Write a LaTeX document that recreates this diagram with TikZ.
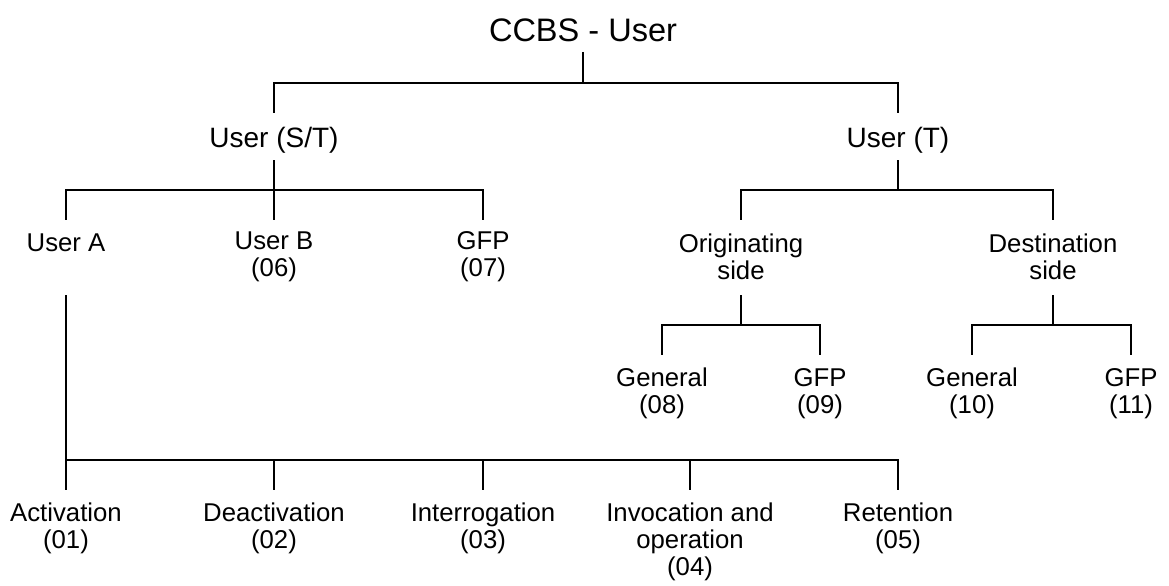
\documentclass[tikz,border=0pt]{standalone}
\usepackage{fontspec}
\setmainfont{Liberation Sans}
\usetikzlibrary{calc}

\tikzset{
	lbl/.style={align=center, inner sep=0pt, font=\fontsize{19.3}{20.25}\selectfont},
	mid/.style={lbl, font=\fontsize{21}{24}\selectfont},
	ttl/.style={lbl, font=\fontsize{24.4}{28}\selectfont},
	conn/.style={line width=1.2pt},
}

\begin{document}
\begin{tikzpicture}[x=0.75pt, y=-0.75pt]
	\useasboundingbox (0,0) rectangle (1169,585);
	
	\node[ttl] (ccbs) at (583,30) {CCBS - User};
	\node[mid] (ust) at (274,140) {User (S/T)};
	\node[mid] (ut) at (898,140) {User (T)};
	
	\node[lbl] (ua) at (66,243) {User A};
	\node[lbl] (ub) at (274,256.5) {User B\\(06)};
	\node[lbl] (gfp_7) at (483,256.5) {GFP\\(07)};
	\node[lbl] (orig) at (741,256.5) {Originating\\side};
	\node[lbl] (dest) at (1053,256.5) {Destination\\side};
	
	\node[lbl] (gen_8) at (662,393.5) {General\\(08)};
	\node[lbl] (gfp_9) at (820,393.5) {GFP\\(09)};
	\node[lbl] (gen_10) at (972,393.5) {General\\(10)};
	\node[lbl] (gfp_11) at (1131,393.5) {GFP\\(11)};
	
	\node[lbl] (act) at (66,528.5) {Activation\\(01)};
	\node[lbl] (deact) at (274,528.5) {Deactivation\\(02)};
	\node[lbl] (interr) at (483,528.5) {Interrogation\\(03)};
	\node[lbl] (invoc) at (690,542) {Invocation and\\operation\\(04)};
	\node[lbl] (ret) at (898,528.5) {Retention\\(05)};
	
	\draw[conn] ($(ccbs)+(0,22)$) -- ++(0,31) coordinate (b_0)
		-| ($(ust)+(0,-27)$) (b_0) -| ($(ut)+(0,-27)$);
	\draw[conn] ($(ust)+(0,20)$) -- ++(0,30) coordinate (b_1)
		-| ($(ua)+(0,-23)$) (b_1) -| ($(ub)+(0,-36.5)$) (b_1) -| ($(gfp_7)+(0,-36.5)$);
	\draw[conn] ($(ut)+(0,20)$) -- ++(0,30) coordinate (b_2)
		-| ($(orig)+(0,-36.5)$) (b_2) -| ($(dest)+(0,-36.5)$);
	\draw[conn] ($(orig)+(0,38.5)$) -- ++(0,30) coordinate (b_3)
		-| ($(gen_8)+(0,-38.5)$) (b_3) -| ($(gfp_9)+(0,-38.5)$);
	\draw[conn] ($(dest)+(0,38.5)$) -- ++(0,30) coordinate (b_4)
		-| ($(gen_10)+(0,-38.5)$) (b_4) -| ($(gfp_11)+(0,-38.5)$);
	\draw[conn] ($(ua)+(0,52)$) -- ++(0,165) coordinate (b_5)
		-| ($(act)+(0,-38.5)$) (b_5) -| ($(deact)+(0,-38.5)$)
		(b_5) -| ($(interr)+(0,-38.5)$) (b_5) -| ($(invoc)+(0,-52)$)
		(b_5) -| ($(ret)+(0,-38.5)$);
\end{tikzpicture}
\end{document}
